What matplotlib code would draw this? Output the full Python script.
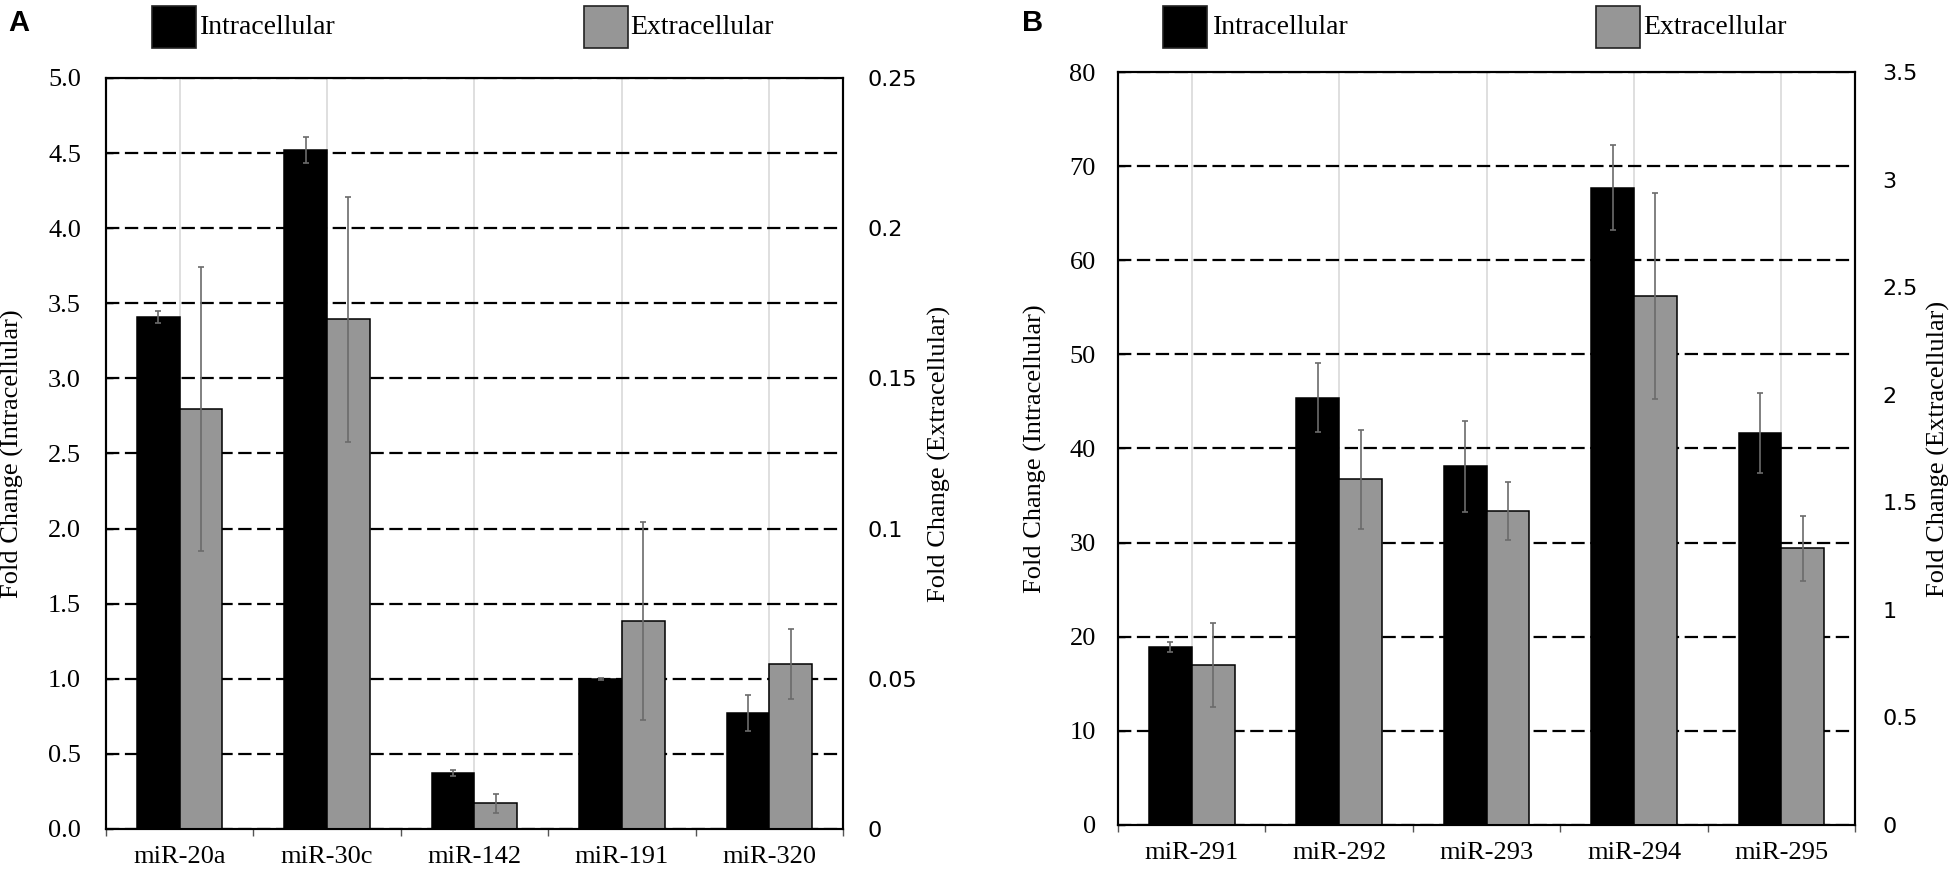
import matplotlib
matplotlib.use('Agg')
import matplotlib.pyplot as plt
from matplotlib.patches import Rectangle
import numpy as np

plt.rcParams['font.family'] = ['Liberation Serif', 'DejaVu Serif']

# Panel A
labels_a = ['miR-20a', 'miR-30c', 'miR-142', 'miR-191', 'miR-320']
intra_a = [3.41, 4.52, 0.37, 1.00, 0.77]
intra_err_a = [0.04, 0.085, 0.02, 0.005, 0.12]
extra_a = [0.1397, 0.1697, 0.0086, 0.0692, 0.0550]
extra_err_a = [0.0473, 0.0408, 0.0032, 0.0330, 0.0117]
left_ticks_a = [0.0, 0.5, 1.0, 1.5, 2.0, 2.5, 3.0, 3.5, 4.0, 4.5, 5.0]
right_ticks_a = [0, 0.05, 0.1, 0.15, 0.2, 0.25]
right_ticklabels_a = ['0', '0.05', '0.1', '0.15', '0.2', '0.25']

# Panel B
labels_b = ['miR-291', 'miR-292', 'miR-293', 'miR-294', 'miR-295']
intra_b = [18.9, 45.4, 38.1, 67.7, 41.6]
intra_err_b = [0.5, 3.65, 4.8, 4.5, 4.25]
extra_b = [0.745, 1.606, 1.46, 2.46, 1.286]
extra_err_b = [0.195, 0.232, 0.135, 0.478, 0.152]
left_ticks_b = [0, 10, 20, 30, 40, 50, 60, 70, 80]
right_ticks_b = [0, 0.5, 1, 1.5, 2, 2.5, 3, 3.5]
right_ticklabels_b = ['0', '0.5', '1', '1.5', '2', '2.5', '3', '3.5']

GRAY = '#969696'
ERR = '#6b6b6b'


def draw_panel(ax, labels, intra, intra_err, extra, extra_err,
               left_ticks, left_fmt, right_ticks, right_ticklabels,
               left_pad, right_pad, lab_left_x, lab_right_x):
    x = np.arange(len(labels)) + 0.5
    w = 0.29

    ax.bar(x - w / 2, intra, width=w, color='black', edgecolor='black',
           linewidth=1.1, zorder=2)
    ax.errorbar(x - w / 2, intra, yerr=intra_err, fmt='none', ecolor=ERR,
                elinewidth=1.2, capsize=2, capthick=1.2, zorder=3)

    ax.set_xlim(0, len(labels))
    ax.set_ylim(left_ticks[0], left_ticks[-1])
    ax.set_xticks(x)
    ax.set_xticklabels(labels, fontsize=19)
    ax.set_xticks(np.arange(len(labels) + 1), minor=True)
    ax.tick_params(axis='x', which='major', length=0, pad=12)
    ax.tick_params(axis='x', which='minor', length=5, width=1,
                   color='#555555', direction='out')
    ax.set_yticks(left_ticks)
    ax.set_yticklabels([left_fmt.format(t) for t in left_ticks], fontsize=19)
    ax.tick_params(axis='y', direction='in', length=5, width=1, pad=left_pad)

    ax.grid(axis='y', linestyle=(0, (6, 2.5)), color='black', linewidth=1.6)
    ax.grid(axis='x', color='#d9d9d9', linewidth=1.2)
    ax.set_axisbelow(True)
    ax.set_ylabel('Fold Change (Intracellular)', fontsize=19)
    ax.yaxis.set_label_coords(lab_left_x, 0.5)

    ax2 = ax.twinx()
    ax2.bar(x + w / 2, extra, width=w, color=GRAY, edgecolor='black',
            linewidth=1.1, zorder=2)
    ax2.errorbar(x + w / 2, extra, yerr=extra_err, fmt='none', ecolor=ERR,
                 elinewidth=1.2, capsize=2, capthick=1.2, zorder=3)
    ax2.set_ylim(right_ticks[0], right_ticks[-1])
    ax2.set_yticks(right_ticks)
    ax2.set_yticklabels(right_ticklabels, fontsize=16, family='DejaVu Sans')
    ax2.tick_params(axis='y', length=0, pad=right_pad)
    ax2.set_ylabel('Fold Change (Extracellular)', fontsize=19)
    ax2.yaxis.set_label_coords(lab_right_x, 0.5)

    for a in (ax, ax2):
        for sp in a.spines.values():
            sp.set_linewidth(1.5)
            sp.set_color('black')


fig = plt.figure(figsize=(19.55, 8.74), dpi=100)
ax_a = fig.add_axes([0.0542, 0.0515, 0.3770, 0.8593])
ax_b = fig.add_axes([0.5719, 0.0561, 0.3770, 0.8615])

draw_panel(ax_a, labels_a, intra_a, intra_err_a, extra_a, extra_err_a,
           left_ticks_a, '{:.1f}', right_ticks_a, right_ticklabels_a,
           18, 18, -0.111, 1.115)
draw_panel(ax_b, labels_b, intra_b, intra_err_b, extra_b, extra_err_b,
           left_ticks_b, '{:d}', right_ticks_b, right_ticklabels_b,
           16, 19.5, -0.096, 1.098)

# legends and panel letters
def legend_entry(x_box, x_text, color, text):
    fig.add_artist(Rectangle((x_box, 0.9451), 0.0225, 0.048,
                             transform=fig.transFigure, facecolor=color,
                             edgecolor='#222222', linewidth=1.2))
    fig.text(x_text, 0.969, text, fontsize=20, va='center', ha='left')

legend_entry(0.0777, 0.1023, 'black', 'Intracellular')
legend_entry(0.2987, 0.3223, GRAY, 'Extracellular')
legend_entry(0.5949, 0.6205, 'black', 'Intracellular')
legend_entry(0.8164, 0.8404, GRAY, 'Extracellular')

fig.text(0.004, 0.99, 'A', fontsize=21, fontweight='bold',
         family='Liberation Sans', va='top', ha='left')
fig.text(0.523, 0.99, 'B', fontsize=21, fontweight='bold',
         family='Liberation Sans', va='top', ha='left')

fig.savefig('out.png', dpi=100)
